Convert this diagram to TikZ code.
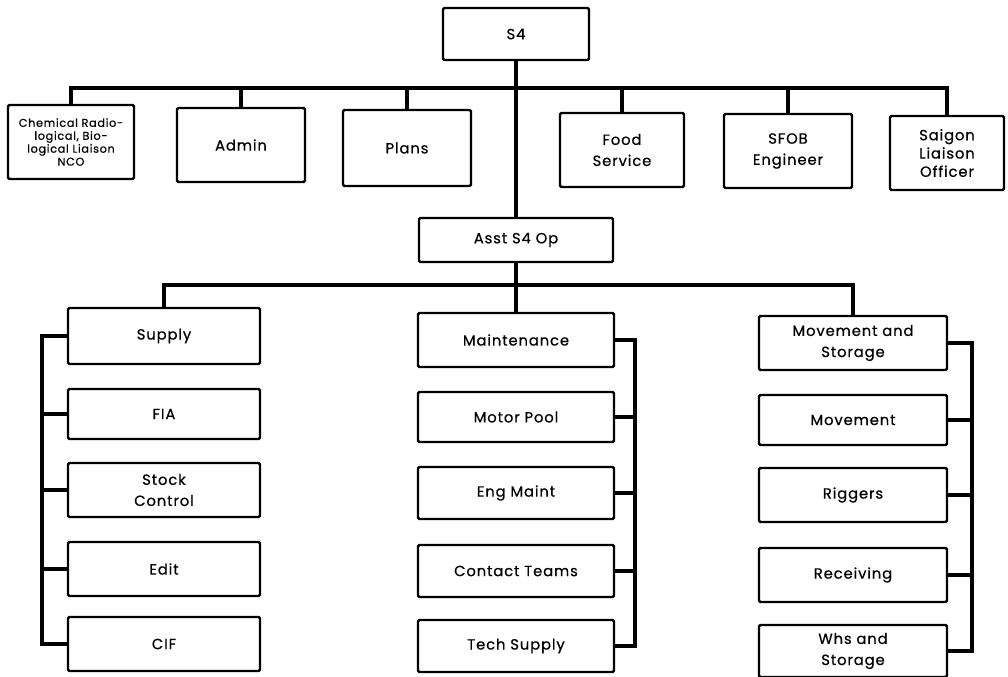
\documentclass[tikz,border=0pt]{standalone}
\usepackage{fontspec}
\setmainfont[LetterSpace=6,FakeBold=0.6]{Poppins}
\usepackage{tikz}
\usetikzlibrary{positioning}

\begin{document}
\begin{tikzpicture}[x=0.25mm, y=-0.25mm,
  box/.style={draw=black, line width=1.7pt, rounded corners=1pt, align=center, font=\fontsize{10.5}{15}\selectfont, inner sep=1pt},
  sbox/.style={box, font=\fontsize{8}{9.2}\selectfont},
  colbox/.style={box, minimum width=48mm, minimum height=13.5mm},
  conn/.style={line width=2.8pt, line cap=rect}
]
\useasboundingbox (0,0) rectangle (1008,677);

% top level
\node[box, minimum width=36.5mm, minimum height=13mm] (s4) at (516,34) {S4};
\node[sbox, minimum width=31.5mm, minimum height=18.5mm] (chem)  at (71,142) {Chemical Radio-\\logical, Bio-\\logical Liaison\\NCO};
\node[box, minimum width=32mm, minimum height=18.5mm] (admin)  at (241,145) {Admin};
\node[box, minimum width=32mm, minimum height=19mm]   (plans)  at (407,148) {Plans};
\node[box, minimum width=31mm, minimum height=18.5mm] (food)   at (622,150) {Food\\Service};
\node[box, minimum width=32mm, minimum height=18.5mm] (sfob)   at (788,151) {SFOB\\Engineer};
\node[box, minimum width=28.5mm, minimum height=18.5mm, font=\fontsize{10.5}{13}\selectfont] (saigon) at (947,153) {Saigon\\Liaison\\Officer};
\node[box, minimum width=48.5mm, minimum height=11mm] (asst) at (516,240) {Asst S4 Op};

% supply column
\node[colbox, minimum height=14mm] (supply) at (164,336) {Supply};
\node[colbox, minimum height=12.5mm] (fia)  at (164,414) {FIA};
\node[colbox] (stock) at (164,490) {Stock\\Control};
\node[colbox] (edit)  at (164,569) {Edit};
\node[colbox] (cif)   at (164,644) {CIF};

% maintenance column
\node[colbox, minimum width=49mm] (maint)   at (516,340) {Maintenance};
\node[colbox, minimum width=49mm, minimum height=12.5mm] (motor) at (516,417) {Motor Pool};
\node[colbox, minimum width=49mm, minimum height=13mm] (engm)    at (516,493) {Eng Maint};
\node[colbox, minimum width=49mm, minimum height=13mm] (contact) at (516,571) {Contact Teams};
\node[colbox, minimum width=49mm, minimum height=13mm] (tech)    at (516,646) {Tech Supply};

% movement column
\node[colbox, minimum width=47mm] (movst) at (853,343) {Movement and\\Storage};
\node[colbox, minimum width=47mm, minimum height=12.5mm] (mov) at (853,420) {Movement};
\node[colbox, minimum width=47mm] (rig)   at (853,495) {Riggers};
\node[colbox, minimum width=47mm] (recv)  at (853,575) {Receiving};
\node[colbox, minimum width=47mm, minimum height=13mm] (whs) at (853,651) {Whs and\\Storage};

% buses
\coordinate (topbus) at (0,88);
\coordinate (lowbus) at (0,285);
\coordinate (lb) at (42,0);
\coordinate (mb) at (635,0);
\coordinate (rb) at (972,0);

\draw[conn] (s4.south) -- (asst.north);
\draw[conn] (chem.north |- topbus) -- (saigon.north |- topbus);
\foreach \n in {chem,admin,plans,food,sfob,saigon}
  \draw[conn] (\n.north |- topbus) -- (\n.north);

\draw[conn] (asst.south) -- (asst.south |- lowbus);
\draw[conn] (supply.north |- lowbus) -- (movst.north |- lowbus);
\foreach \n in {supply,maint,movst}
  \draw[conn] (\n.north |- lowbus) -- (\n.north);

\draw[conn] (supply.west) -| (lb |- cif.west) -- (cif.west);
\foreach \n in {fia,stock,edit}
  \draw[conn] (\n.west) -- (\n.west -| lb);

\draw[conn] (maint.east) -| (mb |- tech.east) -- (tech.east);
\foreach \n in {motor,engm,contact}
  \draw[conn] (\n.east) -- (\n.east -| mb);

\draw[conn] (movst.east) -| (rb |- whs.east) -- (whs.east);
\foreach \n in {mov,rig,recv}
  \draw[conn] (\n.east) -- (\n.east -| rb);
\end{tikzpicture}
\end{document}
